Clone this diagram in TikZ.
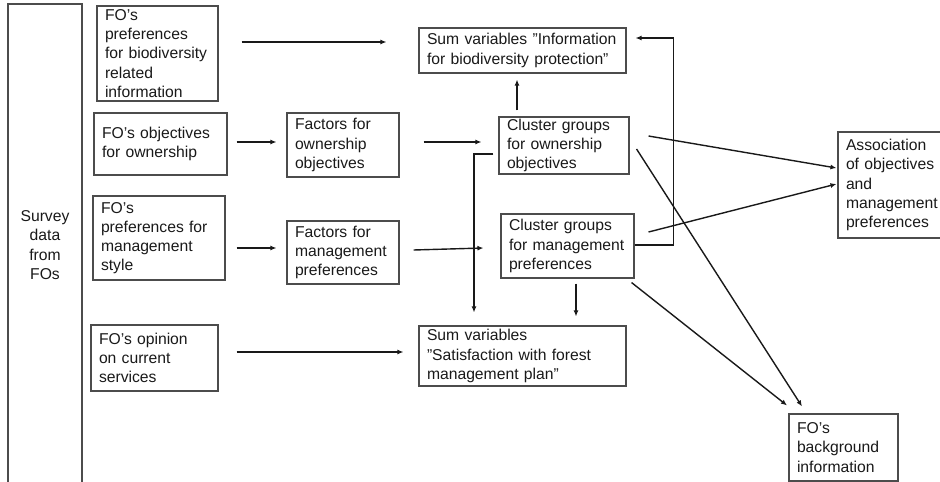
\documentclass[tikz,border=0pt]{standalone}
\usepackage{fontspec}
\setmainfont{Liberation Sans}
\usetikzlibrary{arrows.meta,calc}
\newcommand\myboxfont{\fontsize{15.7}{19.2}\selectfont\hyphenpenalty 10000\relax\exhyphenpenalty 10000\relax}
\begin{document}
\begin{tikzpicture}[x=1pt,y=-1pt,
  box/.style={draw=black!70, line width=1.1pt, rectangle, inner xsep=8pt, inner ysep=0pt,
    align=left, font=\myboxfont, text=black!90},
  arr/.style={line width=1.4pt, draw=black!90, -{Latex[length=6pt,width=5pt]}},
  ]
\useasboundingbox (0,0) rectangle (940,482);
\clip (0,0) rectangle (940,482);
% boxes
\node[box, align=center, minimum width=74pt, minimum height=482pt, text width=58pt] (sv) at (45,245) {Survey\\data\\from\\FOs};
\node[box, minimum width=121pt, minimum height=95pt, text width=105pt] (b1) at (157.5,53.5) {FO’s\\preferences\\for~biodiversity\\related\\information};
\node[box, minimum width=133pt, minimum height=62pt, text width=117pt] (b2) at (160.5,144) {FO’s~objectives\\for~ownership};
\node[box, minimum width=132pt, minimum height=84pt, text width=116pt] (b3) at (159,238) {FO’s\\preferences~for\\management\\style};
\node[box, minimum width=127pt, minimum height=66pt, text width=111pt] (b4) at (154.5,358) {FO’s~opinion\\on~current\\services};
\node[box, minimum width=112pt, minimum height=64pt, text width=96pt] (f1) at (343,145) {Factors~for\\ownership\\objectives};
\node[box, minimum width=112pt, minimum height=63pt, text width=96pt] (f2) at (343,252.5) {Factors~for\\management\\preferences};
\node[box, minimum width=207pt, minimum height=45pt, text width=191pt] (si) at (522.5,50.5) {Sum~variables~”Information\\for~biodiversity~protection”};
\node[box, minimum width=130pt, minimum height=57pt, text width=114pt] (c1) at (564,145.5) {Cluster~groups\\for~ownership\\objectives};
\node[box, minimum width=133pt, minimum height=64pt, text width=117pt] (c2) at (567.5,246) {Cluster~groups\\for~management\\preferences};
\node[box, minimum width=207pt, minimum height=60pt, text width=191pt] (ss) at (522.5,356) {Sum~variables\\”Satisfaction~with~forest\\management~plan”};
\node[box, minimum width=115pt, minimum height=106pt, text width=99pt] (as) at (895.5,185) {Association\\of~objectives\\and\\management\\preferences};
\node[box, minimum width=109pt, minimum height=67pt, text width=93pt] (bg) at (843.5,447.5) {FO’s\\background\\information};
% connectors
\draw[arr] ($(b1.east)+(23,-11.5)$) -- ($(si.west)+(-32,-8.5)$);
\draw[arr] ($(b2.east)+(9,-2)$) -- ($(f1.west)+(-10,-3)$);
\draw[arr] ($(b3.east)+(11,10)$) -- ($(f2.west)+(-10,-4.5)$);
\draw[arr] ($(f1.east)+(24,-3)$) -- ($(c1.west)+(-17,-3.5)$);
\draw[arr] ($(f2.east)+(14,-2.5)$) -- ($(c2.west)+(-17,2)$);
\draw[arr] ($(b4.east)+(18,-6)$) -- ($(ss.west)+(-15,-4)$);
\draw[arr] ($(c1.north)+(-47,-6)$) -- ($(si.south)+(-5.5,6)$);
\draw[arr] ($(c1.west)+(-5,8.5)$) -| ($(ss.north)+(-48.5,-13)$);
\draw[arr] ($(c2.south)+(8.5,5)$) -- ($(ss.north)+(53.5,-9)$);
\draw[arr] ($(c2.east)+(0,-1)$) -- ++(39,0) |- ($(si.east)+(9,-12.5)$);
\draw[arr] ($(c1.east)+(19,-9.5)$) -- ($(as.west)+(-1,-17)$);
\draw[arr] ($(c2.east)+(14,-14)$) -- ($(as.west)+(-1,-1)$);
\draw[arr] ($(c1.east)+(7,3.5)$) -- ($(bg.north)+(-41.5,-7)$);
\draw[arr] ($(c2.south east)+(-3,4)$) -- ($(bg.north)+(-56.5,-8)$);
\end{tikzpicture}
\end{document}
